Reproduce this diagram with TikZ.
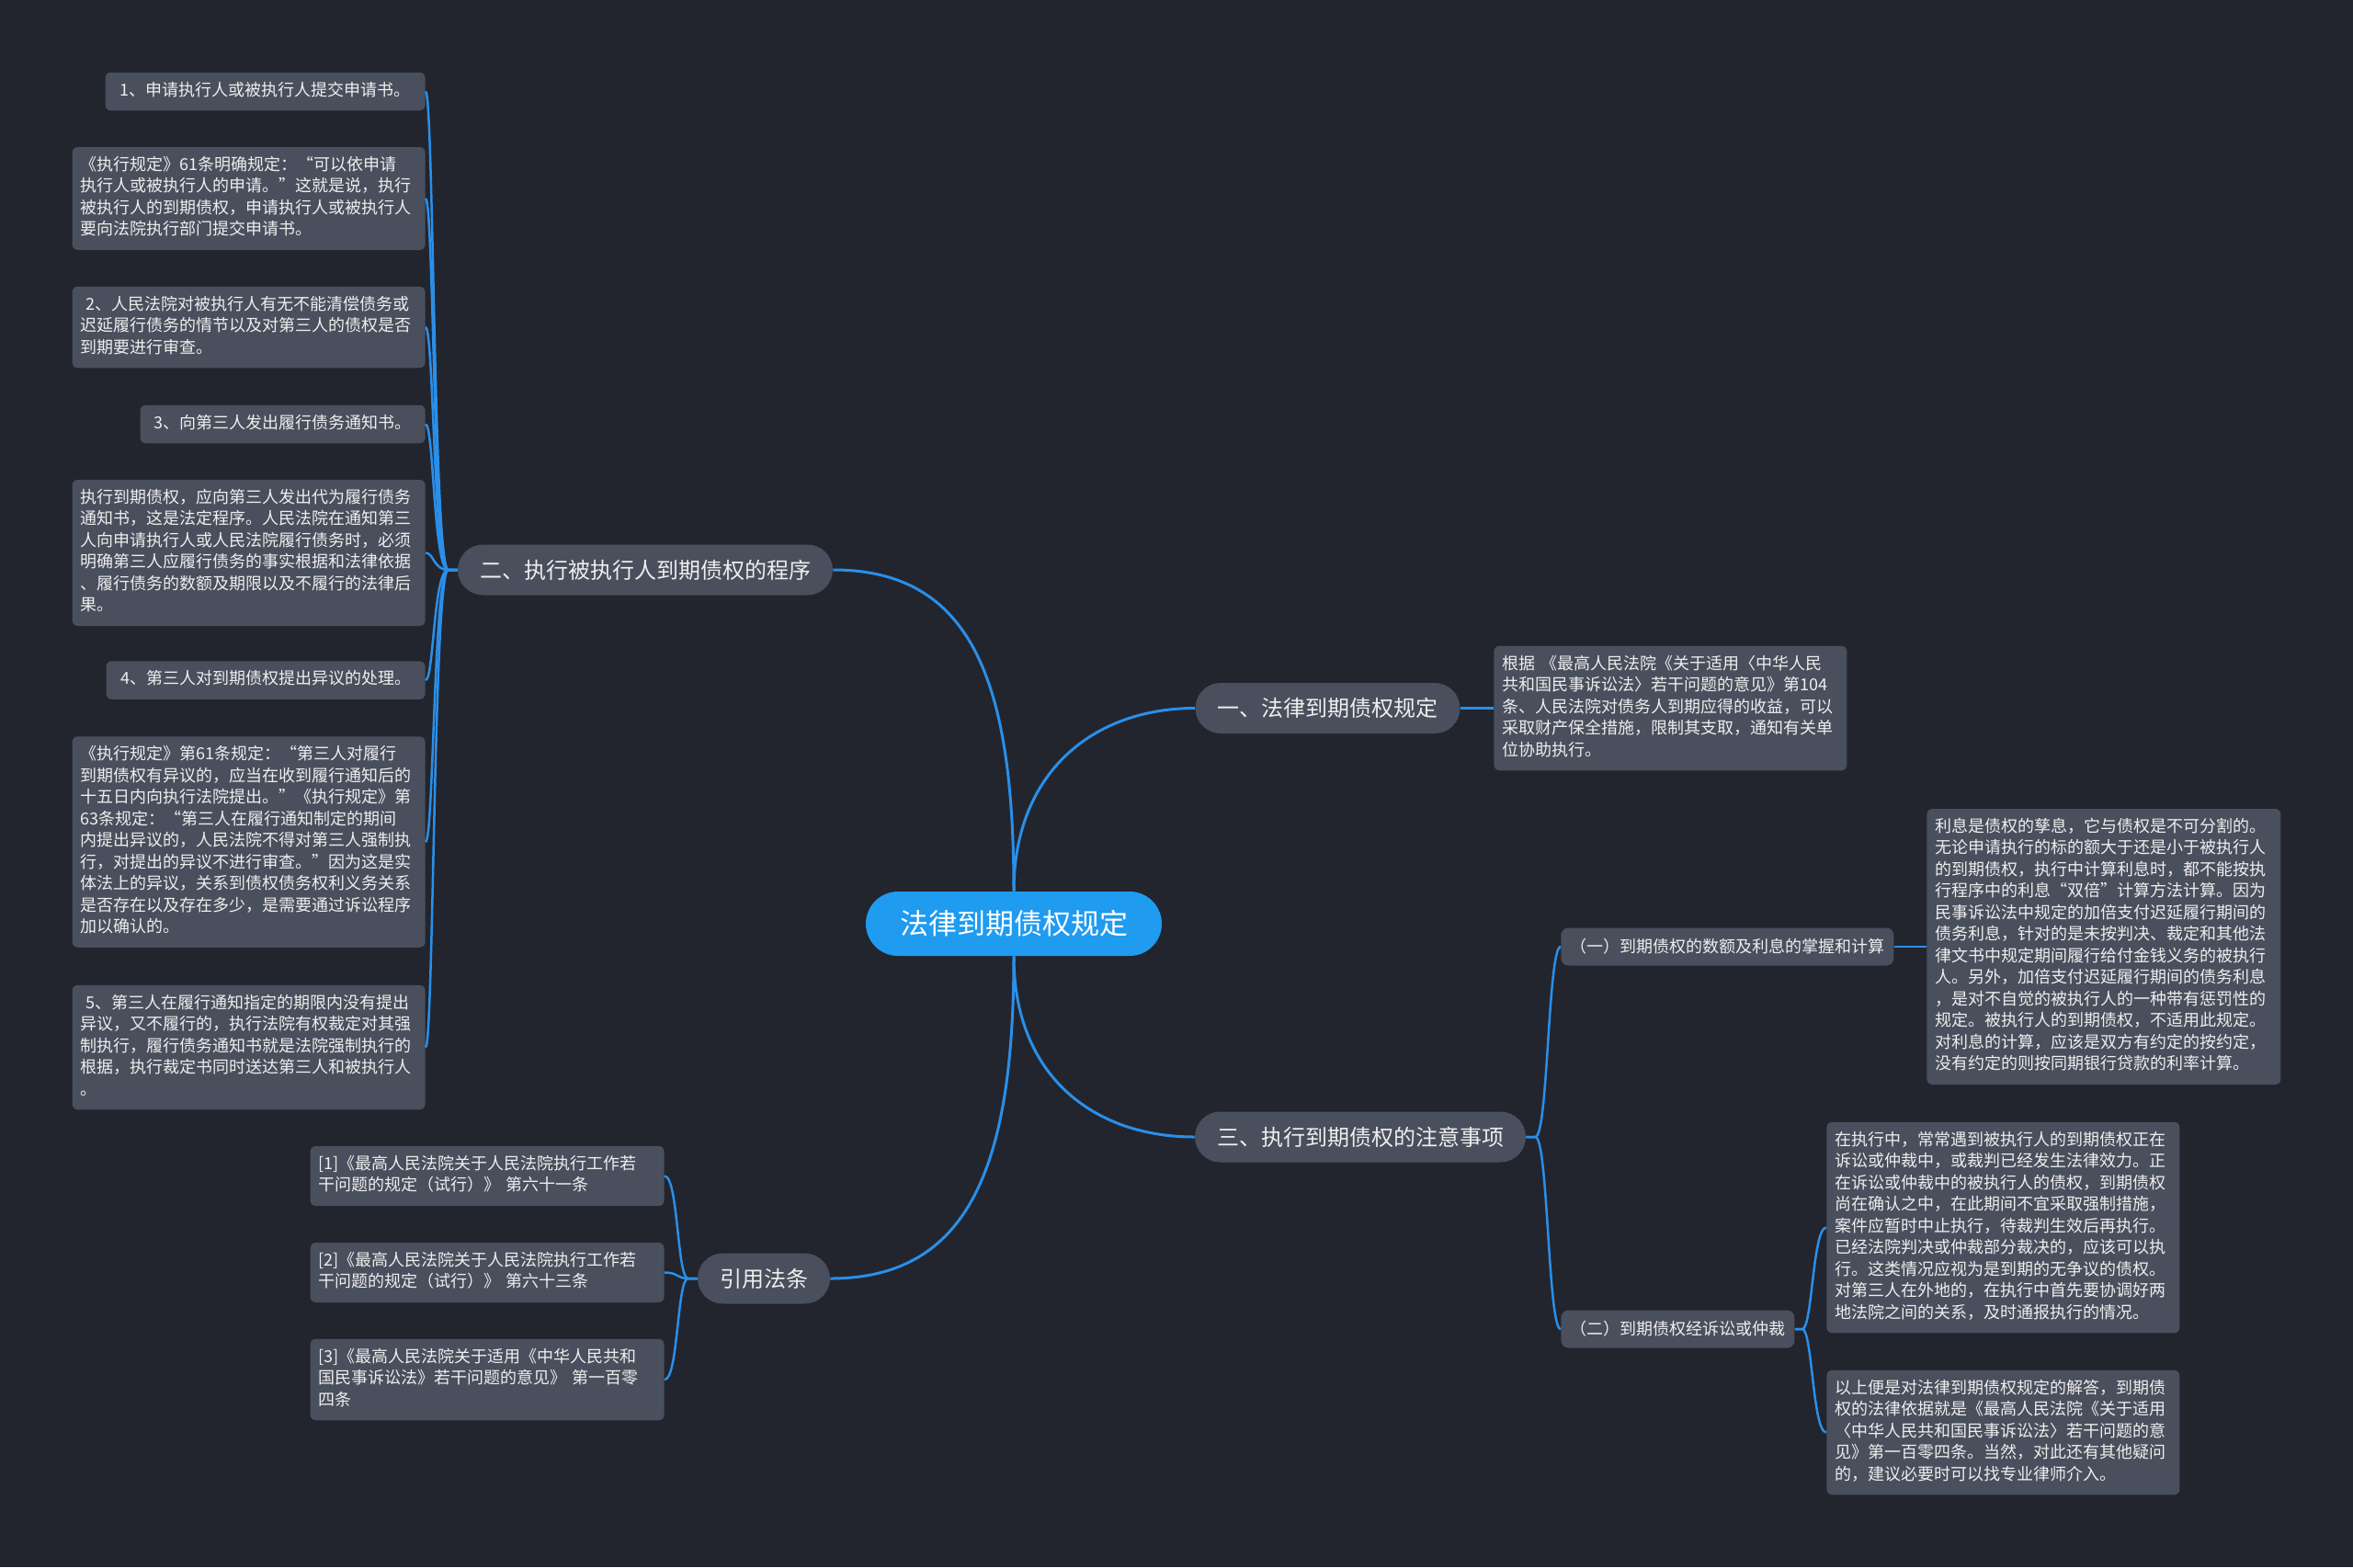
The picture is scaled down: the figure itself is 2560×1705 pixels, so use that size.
\documentclass[tikz,border=0pt]{standalone}
\usepackage{fontspec}
\setmainfont{Noto Sans CJK SC}
\definecolor{bgc}{HTML}{22252E}
\definecolor{boxc}{HTML}{4A4F5D}
\definecolor{linec}{HTML}{2A8FE8}
\definecolor{centc}{HTML}{1F9BF0}
\definecolor{txtc}{HTML}{EEEEEE}
\begin{document}
\begin{tikzpicture}[x=0.5pt,y=-0.5pt,
  leaf/.style={fill=boxc, rounded corners=3pt, text=txtc, font=\fontsize{9}{11.75}\selectfont,
    align=left, inner xsep=4.5pt, inner ysep=4.5pt,
    execute at begin node=\strut, execute at end node=\strut},
  branch/.style={fill=boxc, rounded corners=13.75pt, text=txtc, font=\fontsize{12}{14}\selectfont,
    inner xsep=12pt, inner ysep=0pt, minimum height=27.5pt},
  subnode/.style={fill=boxc, rounded corners=4pt, text=txtc, font=\fontsize{9}{11}\selectfont,
    inner xsep=5pt, inner ysep=0pt, minimum height=20.5pt},
  centernode/.style={fill=centc, rounded corners=17.5pt, text=white, font=\fontsize{15.5}{18}\selectfont,
    minimum width=161pt, minimum height=35pt, inner sep=0pt},
  conn/.style={draw=linec, line width=1.5pt},
  conntwo/.style={draw=linec, line width=1.25pt}
]
\fill[bgc] (0,0) rectangle (2560,1705);
\useasboundingbox (0,0) rectangle (2560,1705);

% central and main branches
\node[centernode] (c) at (1103,1005) {法律到期债权规定};
\node[branch] (n2) at (702,620) {二、执行被执行人到期债权的程序};
\node[branch] (n1) at (1444.5,770.5) {一、法律到期债权规定};
\node[branch] (n3) at (1480,1237) {三、执行到期债权的注意事项};
\node[branch] (nr) at (831,1391) {引用法条};

% sub nodes of branch three
\node[subnode, anchor=west] (s1) at (1698,1030) {（一）到期债权的数额及利息的掌握和计算};
\node[subnode, anchor=west] (s2) at (1698,1446) {（二）到期债权经诉讼或仲裁};

% leaves of branch two
\node[leaf, text width=165pt, align=center, anchor=east] (a1) at (463,99.5) {1、申请执行人或被执行人提交申请书。};
\node[leaf, text width=183pt, anchor=east] (a2) at (463,216) {《执行规定》61条明确规定：“可以依申请\\执行人或被执行人的申请。”这就是说，执行\\被执行人的到期债权，申请执行人或被执行人\\要向法院执行部门提交申请书。};
\node[leaf, text width=183pt, anchor=east] (a3) at (463,356) {~2、人民法院对被执行人有无不能清偿债务或\\迟延履行债务的情节以及对第三人的债权是否\\到期要进行审查。};
\node[leaf, text width=146pt, align=center, anchor=east] (a4) at (463,461.5) {3、向第三人发出履行债务通知书。};
\node[leaf, text width=183pt, anchor=east] (a5) at (463,601.5) {执行到期债权，应向第三人发出代为履行债务\\通知书，这是法定程序。人民法院在通知第三\\人向申请执行人或人民法院履行债务时，必须\\明确第三人应履行债务的事实根据和法律依据\\、履行债务的数额及期限以及不履行的法律后\\果。};
\node[leaf, text width=164.5pt, align=center, anchor=east] (a6) at (463,740) {4、第三人对到期债权提出异议的处理。};
\node[leaf, text width=183pt, anchor=east] (a7) at (463,916) {《执行规定》第61条规定：“第三人对履行\\到期债权有异议的，应当在收到履行通知后的\\十五日内向执行法院提出。”《执行规定》第\\63条规定：“第三人在履行通知制定的期间\\内提出异议的，人民法院不得对第三人强制执\\行，对提出的异议不进行审查。”因为这是实\\体法上的异议，关系到债权债务权利义务关系\\是否存在以及存在多少，是需要通过诉讼程序\\加以确认的。};
\node[leaf, text width=183pt, anchor=east] (a8) at (463,1139.5) {~5、第三人在履行通知指定的期限内没有提出\\异议，又不履行的，执行法院有权裁定对其强\\制执行，履行债务通知书就是法院强制执行的\\根据，执行裁定书同时送达第三人和被执行人\\。};

% references
\node[leaf, text width=183.5pt, anchor=east] (r1) at (723,1279.5) {[1]《最高人民法院关于人民法院执行工作若\\干问题的规定（试行）》~第六十一条};
\node[leaf, text width=183.5pt, anchor=east] (r2) at (723,1384.5) {[2]《最高人民法院关于人民法院执行工作若\\干问题的规定（试行）》~第六十三条};
\node[leaf, text width=183.5pt, anchor=east] (r3) at (723,1501) {[3]《最高人民法院关于适用《中华人民共和\\国民事诉讼法》若干问题的意见》~第一百零\\四条};

% leaf of branch one
\node[leaf, text width=183pt, anchor=west] (b1) at (1625,770.5) {根据~《最高人民法院《关于适用〈中华人民\\共和国民事诉讼法〉若干问题的意见》第104\\条、人民法院对债务人到期应得的收益，可以\\采取财产保全措施，限制其支取，通知有关单\\位协助执行。};

% leaves of sub nodes
\node[leaf, text width=183.5pt, anchor=west] (d1) at (2096,1030) {利息是债权的孳息，它与债权是不可分割的。\\无论申请执行的标的额大于还是小于被执行人\\的到期债权，执行中计算利息时，都不能按执\\行程序中的利息“双倍”计算方法计算。因为\\民事诉讼法中规定的加倍支付迟延履行期间的\\债务利息，针对的是未按判决、裁定和其他法\\律文书中规定期间履行给付金钱义务的被执行\\人。另外，加倍支付迟延履行期间的债务利息\\，是对不自觉的被执行人的一种带有惩罚性的\\规定。被执行人的到期债权，不适用此规定。\\对利息的计算，应该是双方有约定的按约定，\\没有约定的则按同期银行贷款的利率计算。};
\node[leaf, text width=183pt, anchor=west] (e1) at (1987,1335.5) {在执行中，常常遇到被执行人的到期债权正在\\诉讼或仲裁中，或裁判已经发生法律效力。正\\在诉讼或仲裁中的被执行人的债权，到期债权\\尚在确认之中，在此期间不宜采取强制措施，\\案件应暂时中止执行，待裁判生效后再执行。\\已经法院判决或仲裁部分裁决的，应该可以执\\行。这类情况应视为是到期的无争议的债权。\\对第三人在外地的，在执行中首先要协调好两\\地法院之间的关系，及时通报执行的情况。};
\node[leaf, text width=183pt, anchor=west] (e2) at (1987,1558.5) {以上便是对法律到期债权规定的解答，到期债\\权的法律依据就是《最高人民法院《关于适用\\〈中华人民共和国民事诉讼法〉若干问题的意\\见》第一百零四条。当然，对此还有其他疑问\\的，建议必要时可以找专业律师介入。};

% connectors from center
\draw[conn] (c.north) .. controls +(0,-230) and +(150,0) .. (n2.east);
\draw[conn] (c.north) .. controls +(0,-130) and +(-110,0) .. (n1.west);
\draw[conn] (c.south) .. controls +(0,130) and +(-110,0) .. (n3.west);
\draw[conn] (c.south) .. controls +(0,230) and +(150,0) .. (nr.east);

% branch two to its leaves
\foreach \n in {a1,a2,a3,a4,a5,a6,a7,a8}
  \draw[conntwo] (n2.west) -- ++(-10,0) .. controls +(-16,0) and +(9,0) .. (\n.east);
% references
\foreach \n in {r1,r2,r3}
  \draw[conntwo] (nr.west) -- ++(-10,0) .. controls +(-12,0) and +(15,0) .. (\n.east);
% branch three to sub nodes
\foreach \n in {s1,s2}
  \draw[conntwo] (n3.east) -- ++(10,0) .. controls +(14,0) and +(-14,0) .. (\n.west);
% sub node two to its leaves
\foreach \n in {e1,e2}
  \draw[conntwo] (s2.east) -- ++(8,0) .. controls +(11,0) and +(-15,0) .. (\n.west);
% straight connectors
\draw[conntwo] (n1.east) -- (b1.west);
\draw[conntwo] (s1.east) -- (d1.west);
\end{tikzpicture}
\end{document}
